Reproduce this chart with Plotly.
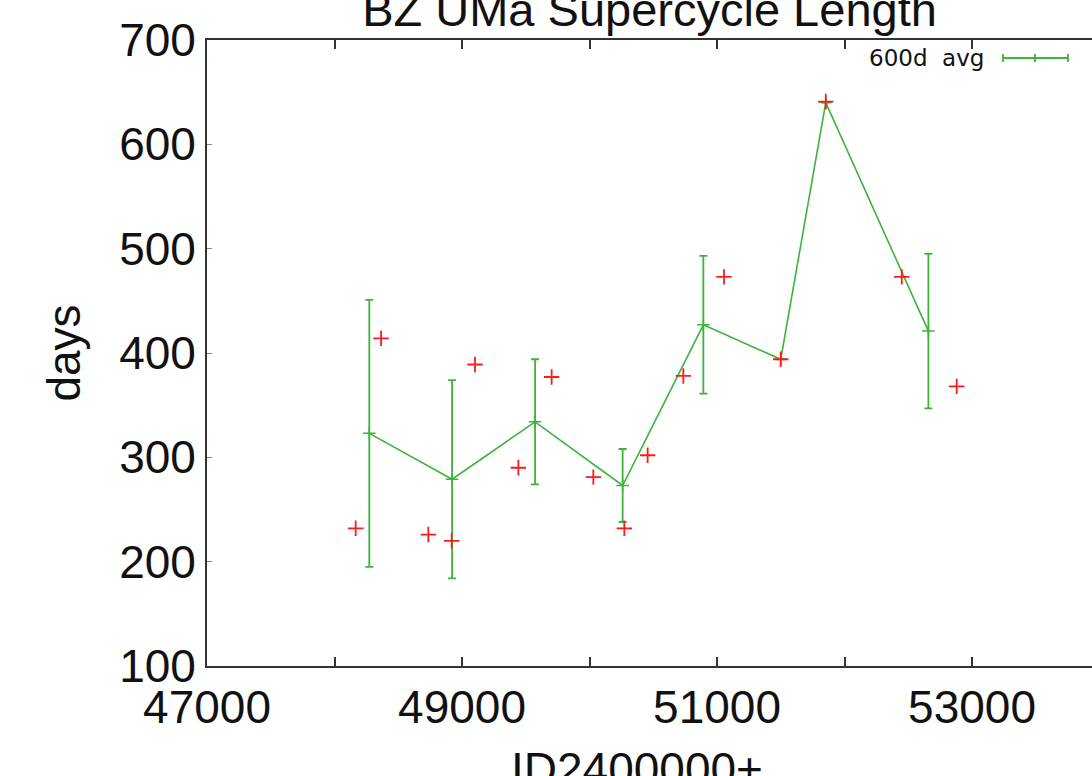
import plotly.graph_objects as go

# 600-day averages with error bars
avg_jd = [48273, 48922, 49573, 50260, 50893, 51500, 51853, 52658]
avg_days = [323, 279, 334, 273, 427, 394, 640, 421]
avg_err = [128, 95, 60, 35, 66, 0, 0, 74]

# individual supercycle lengths
ind_jd = [48166, 48365, 48736, 48919, 49102, 49442, 49703, 50030,
          50273, 50456, 50736, 51055, 51500, 51853, 52449, 52880]
ind_days = [232, 414, 226, 220, 389, 290, 377, 281,
            232, 302, 378, 473, 394, 641, 473, 368]

x_tickvals = [47000, 48000, 49000, 50000, 51000, 52000, 53000, 54000]
x_ticktext = ["47000", "", "49000", "", "51000", "", "53000", ""]
y_tickvals = [100, 200, 300, 400, 500, 600, 700]

GREEN = "#3cb43c"
RED = "#ff1a1a"
FONT = "Liberation Sans, Arial, sans-serif"

fig = go.Figure()
fig.add_trace(go.Scatter(
    x=avg_jd, y=avg_days, mode="lines+markers", name="600d avg",
    line=dict(color=GREEN, width=1.6),
    marker=dict(symbol="cross-thin", size=9, line=dict(color=GREEN, width=1.5), color=GREEN),
    error_y=dict(type="data", array=avg_err, visible=True, color=GREEN, thickness=1.8, width=4),
    showlegend=False,
))
fig.add_trace(go.Scatter(
    x=ind_jd, y=ind_days, mode="markers", name="supercycle",
    marker=dict(symbol="cross-thin", size=11, line=dict(color=RED, width=1.8), color=RED),
    showlegend=False,
))

L, R, T, B = 207, 0, 40, 110
W, H = 1092, 776
pw, ph = W - L - R, H - T - B

def px_x(px):
    return (px - L) / pw

def px_y(py):
    return (H - B - py) / ph

# legend drawn at top right (text then sample)
ly = px_y(58)
fig.add_annotation(x=px_x(986), y=ly, xref="paper", yref="paper", text="600d\u00a0\u00a0avg",
                   showarrow=False, xanchor="right", yanchor="middle",
                   font=dict(family="DejaVu Sans, sans-serif", size=23, color="#111"))
x0, x1, xm = px_x(1003), px_x(1068), px_x(1035)
cap = 4 / ph
fig.add_shape(type="line", xref="paper", yref="paper", x0=x0, x1=x1, y0=ly, y1=ly,
              line=dict(color=GREEN, width=1.8))
for xx in (x0, xm, x1):
    fig.add_shape(type="line", xref="paper", yref="paper", x0=xx, x1=xx, y0=ly - cap, y1=ly + cap,
                  line=dict(color=GREEN, width=1.8))

# x-axis title (placed low, partly below the visible page as in the reference)
fig.add_annotation(x=px_x(637), y=px_y(741), xref="paper", yref="paper", text="ID2400000+",
                   showarrow=False, xanchor="center", yanchor="top",
                   font=dict(family=FONT, size=46, color="#111"))

fig.update_layout(
    width=W, height=H,
    margin=dict(l=L, r=R, t=T, b=B, autoexpand=False),
    paper_bgcolor="white", plot_bgcolor="white",
    font=dict(family=FONT, color="#111"),
    title=dict(text="BZ UMa Supercycle Length", x=(L + pw / 2) / W, xanchor="center",
               y=1 - 10 / H, yanchor="middle", yref="container",
               font=dict(family=FONT, size=47, color="#111")),
)
fig.update_xaxes(
    range=[47000, 47000 + pw / 127.5 * 1000], tickvals=x_tickvals, ticktext=x_ticktext,
    ticks="inside", ticklen=9, tickwidth=1.5, tickcolor="#333",
    showline=True, linecolor="#333", linewidth=1.8, mirror="ticks",
    showgrid=False, zeroline=False,
    tickfont=dict(family=FONT, size=46, color="#111"), ticklabelstandoff=0,
    automargin=False,
)
fig.update_yaxes(
    range=[100, 700], tickvals=y_tickvals,
    ticks="inside", ticklen=5, tickwidth=1, tickcolor="#888",
    showline=True, linecolor="#333", linewidth=1.8, mirror=False,
    showgrid=False, zeroline=False,
    tickfont=dict(family=FONT, size=46, color="#111"), ticklabelstandoff=0,
    title=dict(text="days", font=dict(family=FONT, size=46, color="#111"), standoff=24),
    automargin=False,
)

fig.write_html("out.html", config={"displayModeBar": False},
               post_script="document.body.style.margin='0';")
